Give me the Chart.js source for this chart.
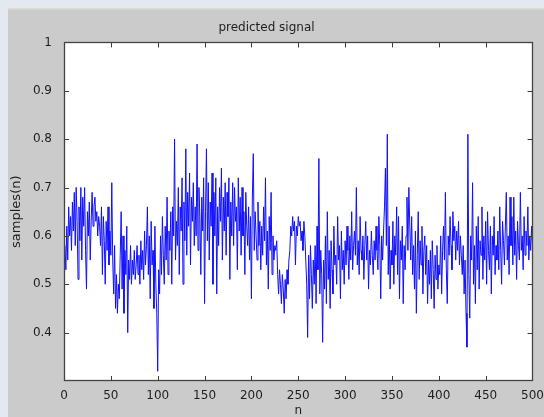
<!DOCTYPE html>
<html>
<head>
<meta charset="utf-8">
<script src="https://cdn.jsdelivr.net/npm/chart.js@4.4.0/dist/chart.umd.min.js"></script>
<style>
  html, body { margin: 0; padding: 0; background: #e4e9f1; }
  #c { display: block; }
</style>
</head>
<body>
<canvas id="c" width="544" height="417"></canvas>
<script>
// ---- data ----
const chartTitle = 'predicted signal';
const xAxisLabel = 'n';
const yAxisLabel = 'samples(n)';
const xTicks = [0, 50, 100, 150, 200, 250, 300, 350, 400, 450, 500];
const xTickLabels = ['0', '50', '100', '150', '200', '250', '300', '350', '400', '450', '500'];
const yTicks = [0.4, 0.5, 0.6, 0.7, 0.8, 0.9, 1];
const yTickLabels = ['0.4', '0.5', '0.6', '0.7', '0.8', '0.9', '1'];
const samples = [
  0.58,0.53,0.62,0.55,0.66,0.60,0.64,0.57,0.67,0.61,
  0.69,0.58,0.70,0.63,0.51,0.66,0.59,0.70,0.55,0.68,
  0.62,0.70,0.57,0.49,0.65,0.60,0.67,0.55,0.63,0.69,
  0.62,0.66,0.68,0.63,0.65,0.60,0.64,0.62,0.58,0.66,
  0.52,0.64,0.59,0.50,0.63,0.57,0.66,0.54,0.61,0.56,
  0.71,0.55,0.48,0.58,0.45,0.52,0.44,0.50,0.47,0.56,
  0.65,0.49,0.60,0.44,0.57,0.52,0.62,0.40,0.55,0.51,
  0.58,0.50,0.55,0.52,0.57,0.51,0.54,0.58,0.52,0.56,
  0.50,0.59,0.53,0.57,0.51,0.61,0.54,0.58,0.66,0.52,
  0.60,0.47,0.63,0.54,0.57,0.45,0.62,0.50,0.44,0.32,
  0.53,0.48,0.60,0.52,0.64,0.56,0.50,0.62,0.55,0.68,
  0.52,0.61,0.57,0.65,0.50,0.66,0.60,0.80,0.55,0.63,
  0.58,0.70,0.52,0.66,0.61,0.72,0.50,0.67,0.59,0.78,
  0.56,0.69,0.62,0.73,0.54,0.68,0.63,0.71,0.58,0.66,
  0.60,0.79,0.57,0.70,0.64,0.52,0.68,0.61,0.72,0.46,
  0.65,0.78,0.59,0.71,0.55,0.67,0.62,0.73,0.50,0.69,
  0.60,0.72,0.48,0.66,0.58,0.70,0.63,0.74,0.55,0.68,
  0.61,0.71,0.56,0.69,0.64,0.72,0.51,0.67,0.60,0.71,
  0.58,0.70,0.63,0.66,0.53,0.72,0.61,0.68,0.56,0.70,
  0.60,0.65,0.52,0.69,0.62,0.58,0.66,0.55,0.64,0.47,
  0.68,0.77,0.57,0.65,0.60,0.55,0.67,0.58,0.63,0.53,
  0.62,0.56,0.66,0.59,0.72,0.54,0.61,0.49,0.64,0.57,
  0.69,0.52,0.60,0.55,0.58,0.57,0.59,0.52,0.48,0.53,
  0.50,0.46,0.52,0.49,0.44,0.51,0.47,0.53,0.50,0.55,
  0.57,0.62,0.60,0.64,0.61,0.63,0.54,0.62,0.60,0.64,
  0.62,0.63,0.59,0.61,0.57,0.63,0.60,0.55,0.50,0.39,
  0.56,0.47,0.58,0.52,0.45,0.55,0.50,0.58,0.46,0.62,
  0.53,0.76,0.48,0.57,0.52,0.38,0.55,0.49,0.60,0.46,
  0.65,0.51,0.57,0.45,0.59,0.53,0.48,0.62,0.54,0.56,
  0.50,0.64,0.55,0.58,0.47,0.61,0.53,0.57,0.50,0.59,
  0.54,0.62,0.57,0.51,0.60,0.55,0.65,0.53,0.58,0.61,
  0.56,0.70,0.54,0.59,0.52,0.64,0.57,0.55,0.60,0.51,
  0.58,0.63,0.55,0.60,0.49,0.57,0.54,0.61,0.56,0.52,
  0.59,0.55,0.62,0.57,0.53,0.64,0.58,0.47,0.60,0.55,
  0.61,0.66,0.74,0.58,0.81,0.52,0.62,0.49,0.57,0.54,
  0.63,0.50,0.60,0.56,0.66,0.52,0.64,0.47,0.59,0.55,
  0.62,0.46,0.58,0.53,0.60,0.68,0.57,0.70,0.62,0.55,
  0.64,0.52,0.58,0.49,0.61,0.44,0.56,0.65,0.51,0.59,
  0.54,0.62,0.48,0.57,0.60,0.52,0.58,0.46,0.55,0.50,
  0.57,0.47,0.59,0.53,0.45,0.56,0.51,0.58,0.49,0.54,
  0.52,0.60,0.48,0.57,0.62,0.55,0.69,0.53,0.46,0.60,
  0.56,0.64,0.58,0.53,0.65,0.59,0.62,0.55,0.61,0.57,
  0.63,0.54,0.60,0.56,0.52,0.58,0.48,0.55,0.44,0.37,
  0.81,0.52,0.43,0.60,0.55,0.71,0.50,0.58,0.46,0.62,
  0.53,0.64,0.49,0.59,0.56,0.66,0.51,0.60,0.55,0.63,
  0.50,0.65,0.57,0.53,0.62,0.48,0.60,0.56,0.64,0.52,
  0.58,0.55,0.61,0.53,0.66,0.57,0.50,0.63,0.59,0.54,
  0.62,0.69,0.55,0.60,0.52,0.68,0.58,0.64,0.54,0.68,
  0.56,0.61,0.51,0.63,0.58,0.55,0.69,0.57,0.60,0.53,
  0.64,0.56,0.61,0.58,0.66,0.55,0.60,0.57,0.62,0.58
];
const yMin = 0.3, yMax = 1;
const xMin = 0, xMax = 500;

// ---- styling / drawing ----
const FONT = 'DejaVu Sans';
const TEXT = '#1e1e1e';

const matlabFrame = {
  id: 'matlabFrame',
  beforeDraw(chart) {
    const { ctx, width, height, chartArea: a } = chart;
    ctx.save();
    ctx.fillStyle = '#e4e9f1';
    ctx.fillRect(0, 0, width, height);
    ctx.fillStyle = '#cbcbcb';
    ctx.fillRect(8, 9, width - 8, height - 9);
    ctx.fillStyle = '#dedcd2';
    ctx.fillRect(8, 8, width - 8, 1.5);
    ctx.fillStyle = '#ffffff';
    ctx.fillRect(a.left, a.top, a.right - a.left, a.bottom - a.top);
    ctx.restore();
  },
  afterDatasetsDraw(chart) {
    const { ctx, chartArea: a, scales } = chart;
    const tl = 5;
    ctx.save();
    ctx.strokeStyle = '#3c3c3c';
    ctx.lineWidth = 1;
    ctx.beginPath();
    scales.x.ticks.forEach(t => {
      const px = Math.round(scales.x.getPixelForValue(t.value)) + 0.5;
      if (px <= a.left + 1 || px >= a.right - 1) return;
      ctx.moveTo(px, a.bottom); ctx.lineTo(px, a.bottom - tl);
      ctx.moveTo(px, a.top); ctx.lineTo(px, a.top + tl);
    });
    scales.y.ticks.forEach(t => {
      const py = Math.round(scales.y.getPixelForValue(t.value)) + 0.5;
      if (py <= a.top + 1 || py >= a.bottom - 1) return;
      ctx.moveTo(a.left, py); ctx.lineTo(a.left + tl, py);
      ctx.moveTo(a.right, py); ctx.lineTo(a.right - tl, py);
    });
    ctx.stroke();
    ctx.strokeStyle = '#444444';
    ctx.lineWidth = 1.3;
    ctx.strokeRect(Math.round(a.left) + 0.5, Math.round(a.top) + 0.5,
                   Math.round(a.right - a.left) - 1, Math.round(a.bottom - a.top) - 1);
    ctx.restore();
  }
};

new Chart(document.getElementById('c'), {
  type: 'line',
  data: {
    datasets: [{
      data: samples.map((v, i) => ({ x: i + 1, y: v })),
      borderColor: '#1010ff',
      borderWidth: 1,
      pointRadius: 0,
      tension: 0,
      fill: false
    }]
  },
  options: {
    responsive: false,
    animation: false,
    devicePixelRatio: 1,
    layout: { padding: { left: 0, right: 11, top: 0, bottom: 0 } },
    plugins: {
      legend: { display: false },
      tooltip: { enabled: false },
      title: {
        display: true,
        text: chartTitle,
        color: TEXT,
        font: { family: FONT, size: 12, weight: 'normal', lineHeight: 1.2 },
        padding: { top: 21, bottom: 7 }
      }
    },
    scales: {
      x: {
        type: 'linear',
        min: xMin, max: xMax,
        afterBuildTicks: s => { s.ticks = xTicks.map(v => ({ value: v })); },
        afterFit: s => { s.height = 36; },
        grid: { display: false },
        border: { display: false },
        ticks: {
          color: TEXT,
          font: { family: FONT, size: 12 },
          padding: 0,
          maxRotation: 0,
          autoSkip: false,
          callback: v => xTickLabels[xTicks.indexOf(v)]
        },
        title: {
          display: true, text: xAxisLabel, color: TEXT,
          font: { family: FONT, size: 12 }, padding: { top: 0, bottom: -1.5 }
        }
      },
      y: {
        type: 'linear',
        min: yMin, max: yMax,
        afterBuildTicks: s => { s.ticks = yTicks.map(v => ({ value: v })); },
        afterFit: s => { s.width = 64; },
        grid: { display: false },
        border: { display: false },
        ticks: {
          color: TEXT,
          font: { family: FONT, size: 12 },
          padding: 4,
          autoSkip: false,
          callback: v => yTickLabels[yTicks.indexOf(v)]
        },
        title: {
          display: true, text: yAxisLabel, color: TEXT,
          font: { family: FONT, size: 13 }, padding: { top: 9, bottom: 0 }
        }
      }
    }
  },
  plugins: [matlabFrame]
});
</script>
</body>
</html>
